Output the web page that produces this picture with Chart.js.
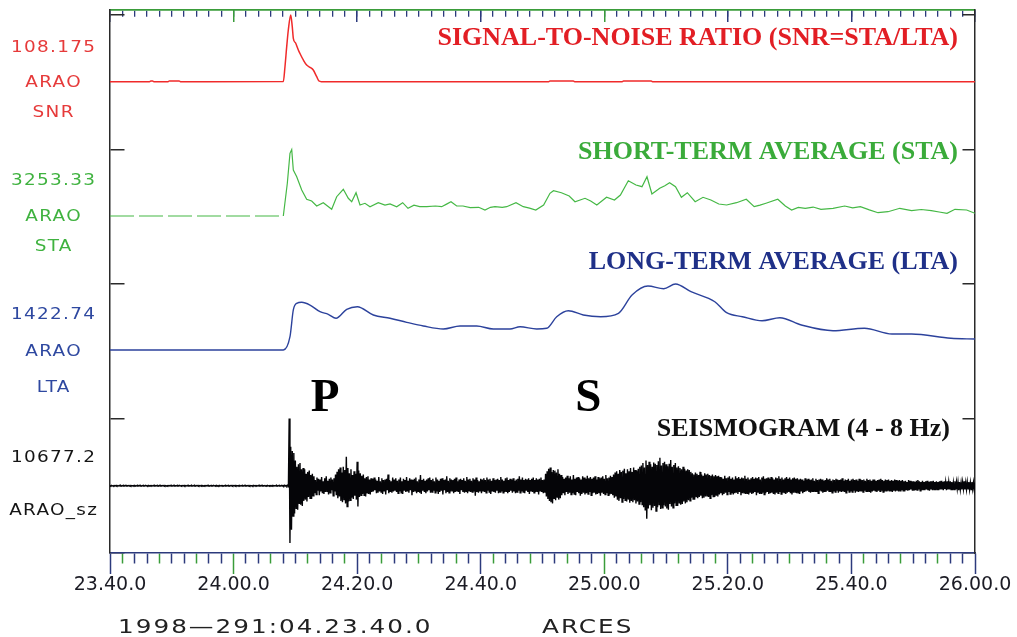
<!DOCTYPE html>
<html>
<head>
<meta charset="utf-8">
<script src="https://cdn.jsdelivr.net/npm/chart.js@4.4.1/dist/chart.umd.min.js"></script>
<style>
  html, body { margin: 0; padding: 0; background: #fff; }
  canvas { display: block; }
</style>
</head>
<body>
<canvas id="c" width="1017" height="637"></canvas>
<script>
// ---------------------------------------------------------------------------
// Data: ARAO traces, times in seconds after 1998-291 04:23:40.0
// ---------------------------------------------------------------------------
const tickLabels = ['23.40.0', '24.00.0', '24.20.0', '24.40.0', '25.00.0', '25.20.0', '25.40.0', '26.00.0'];

// signal-to-noise ratio (STA/LTA)
const snrTime  = [0, 6.4, 6.6, 6.9, 7.1, 9.4, 9.6, 11.2, 11.4, 28.05, 28.32, 28.6, 28.86, 29.25, 29.5, 29.67,
                  30.06, 30.48, 30.87, 31.29, 31.83, 32.37, 32.9, 33.45, 33.83, 34.2, 71.0, 71.2, 75.0, 75.2,
                  82.9, 83.1, 87.6, 87.8, 140];
const snrValue = [1.0, 1.0, 2.0, 2.0, 1.0, 1.0, 2.2, 2.2, 1.0, 1.2, 25.0, 57.2, 84.0, 108.175, 89.4, 70.7,
                  62.7, 51.9, 43.8, 35.8, 27.7, 24.0, 19.7, 8.9, 2.0, 1.0, 1.0, 2.0, 2.0, 1.0,
                  1.0, 2.0, 2.0, 1.0, 1.0];

// short-term average
const staTime  = [0, 28.05, 28.7, 29.13, 29.41, 29.67, 30.22, 31.03, 31.83, 32.64, 33.45, 34.52, 35.88, 36.69,
                  37.76, 38.57, 39.12, 39.82, 40.46, 41.27, 42.08, 43.42, 44.51, 45.32, 46.4, 47.37, 48.23,
                  49.2, 50.12, 51.26, 52.67, 53.68, 54.4, 55.19, 56.11, 57.13, 58.3, 59.67, 60.69, 61.58,
                  62.31, 63.49, 64.2, 65.71, 66.89, 67.9, 68.91, 70.18, 71.21, 71.78, 73.06, 74.32, 75.26,
                  76.88, 77.8, 78.79, 80.37, 81.65, 82.61, 83.89, 85.13, 86.1, 86.91, 87.71, 88.97, 89.8,
                  90.57, 91.53, 92.48, 93.44, 94.71, 95.98, 97.25, 98.53, 99.8, 101.4, 102.98, 104.26, 105.2,
                  106.17, 108.08, 109.3, 110.32, 111.4, 112.53, 113.8, 115.07, 117.02, 118.91, 120.2, 121.45,
                  122.9, 124.3, 125.92, 127.83, 129.74, 131.3, 132.93, 134.2, 135.47, 136.76, 138.65, 140];
const staValue = [36, 36, 1618, 3069, 3253.33, 2262, 1937, 1294, 844, 762, 520, 680, 360, 970,
                  1328, 893, 728, 1163, 568, 651, 486, 680, 568, 617, 486, 680, 409,
                  560, 486, 486, 520, 486, 600, 728, 520, 520, 440, 457, 327, 457,
                  486, 457, 486, 680, 486, 420, 327, 568, 1134, 1260, 1163, 1004, 728,
                  893, 760, 568, 941, 810, 1052, 1744, 1536, 1454, 1937, 1101, 1376, 1500,
                  1647, 1454, 941, 1163, 728, 941, 810, 617, 568, 680, 844, 486, 560,
                  651, 844, 520, 327, 450, 409, 470, 360, 409, 520, 430, 486,
                  330, 196, 244, 409, 293, 350, 293, 230, 167, 360, 327, 167];

// long-term average
const ltaTime  = [0, 28.05, 29.13, 29.67, 30.22, 31.03, 32.37, 33.99, 35.33, 36.58, 38.31, 40.03, 42.62, 45.32,
                  48.02, 50.71, 53.95, 56.65, 59.35, 62.04, 64.74, 66.36, 69.06, 70.68, 72.3, 74.18, 76.6,
                  79.42, 82.29, 84.49, 87.07, 89.62, 91.53, 94.03, 97.89, 99.8, 102.35, 105.53, 108.41, 111.9,
                  117.02, 122.1, 126.56, 129.74, 136.11, 140];
const ltaValue = [26, 26, 308, 873, 1014, 1036, 978, 837, 782, 697, 887, 942, 767, 697,
                  612, 534, 471, 534, 534, 471, 471, 519, 471, 486, 731, 858, 767,
                  731, 803, 1190, 1380, 1323, 1422.74, 1260, 1048, 816, 731, 646, 710, 555,
                  435, 486, 365, 365, 274, 259];

// 4-8 Hz filtered vertical seismogram (counts), one sample every seisStep seconds from t = 0
const seisStep = 0.125;
const seismogram = [
  // pre-event noise
  40,-30,50,-40,30,-50,40,-30,60,-40,30,-40,50,-30,40,-50,30,-40,40,-30,
  50,-40,30,-30,40,-50,60,-40,30,-40,40,-30,50,-50,30,-40,40,-30,50,-40,
  30,-50,40,-30,40,-40,50,-30,30,-40,60,-50,40,-30,30,-40,50,-40,40,-30,
  40,-40,30,-50,50,-30,40,-40,30,-30,50,-40,40,-50,30,-40,40,-30,60,-40,
  30,-40,50,-30,40,-40,30,-50,40,-30,50,-40,30,-40,40,-30,50,-50,40,-40,
  50,-30,40,-40,30,-50,60,-40,30,-30,40,-50,40,-30,50,-40,30,-40,50,-30,
  40,-50,30,-40,40,-30,50,-40,30,-50,40,-40,30,-30,50,-40,40,-30,60,-50,
  30,-40,50,-40,40,-30,30,-50,40,-40,50,-30,40,-40,30,-50,40,-30,50,-40,
  40,-30,50,-50,30,-40,40,-30,60,-40,30,-50,40,-40,50,-30,30,-40,40,-50,
  50,-40,30,-40,40,-50,50,-30,40,-40,30,-40,60,-50,40,-30,50,-40,30,-40,
  40,-50,30,-30,50,-40,40,-40,30,-50,50,-30,40,-40,30,-40,50,-50,40,-30,
  40,-40,60,-50,40,-60,70,-50,60,-70,90,-80,
  // P arrival and coda
  10677.2,-9090,6200,-7000,5500,-4800,5200,-4400,
  4000,-3600,3000,-3800,3400,-2800,3600,-3000,2600,-3200,2800,-2400,
  2600,-2200,1900,-2500,2200,-1800,2400,-2000,1700,-2100,1900,-1600,
  1500,-1200,900,-1400,1300,-800,1100,-1500,1000,-900,1400,-1200,700,-1300,1200,-1000,1500,-900,800,-1400,
  1100,-1100,1300,-700,1000,-1600,1200,-900,
  1800,-1500,2200,-2000,2600,-1700,2900,-2400,2100,-2600,3000,-2200,2500,-2800,4600,-3300,2800,-2500,2000,-2300,
  2600,-1900,1700,-2100,2300,-1600,1900,-2200,3800,-3300,2400,-1800,2000,-1500,
  1600,-1300,1800,-1500,1200,-1700,1400,-1100,1500,-1300,1000,-1400,1200,-1000,
  1100,-900,1300,-700,1000,-1200,800,-1100,1400,-900,700,-1000,1200,-1300,900,-800,
  1000,-1400,1100,-700,1800,-1200,900,-1000,700,-1100,1300,-900,1000,-800,1200,-1000,
  800,-1200,1000,-900,1300,-1100,700,-1300,1100,-800,900,-1000,1400,-900,800,-1100,
  1200,-700,1000,-1500,900,-1000,1100,-800,1300,-1200,700,-900,1000,-1100,1700,-1300,
  900,-800,1100,-1000,800,-1200,1000,-900,1200,-700,1300,-1100,900,-1000,1100,-800,
  700,-1100,1300,-900,1000,-1300,800,-1000,1100,-800,1200,-1400,900,-700,1000,-1200,
  1500,-1000,800,-1100,1200,-900,1000,-800,900,-1200,1100,-1000,1300,-900,700,-1000,
  1000,-1300,1100,-700,900,-1000,1200,-1100,800,-900,1400,-1200,1000,-800,1100,-1000,
  800,-1000,1200,-900,1000,-1600,1300,-1000,900,-1100,700,-900,1100,-1200,1000,-800,
  1200,-1000,900,-1100,1300,-800,1000,-1000,1100,-1300,800,-900,1200,-1000,900,-1100,
  1000,-800,1100,-1200,900,-1000,1400,-900,1000,-1100,800,-1000,1200,-900,1300,-1200,
  900,-1000,1100,-800,1000,-1100,1200,-900,800,-1200,1000,-1000,1100,-800,1500,-1100,
  1000,-900,1300,-1000,900,-1200,1100,-800,1000,-1000,1200,-1300,900,-900,1100,-1000,
  1300,-1100,900,-1000,1200,-900,1000,-1400,1100,-800,1300,-1000,900,-1200,1000,-1100,
  // burst near 24.51
  1900,-1700,2300,-2100,2700,-2400,2900,-2600,2200,-2800,2500,-2000,2400,-2300,2100,-1800,2600,-2200,1900,-2000,
  1700,-1500,
  1400,-1200,1100,-1500,1300,-1000,1600,-1300,1200,-1100,1500,-1400,1000,-1200,1700,-1300,
  1100,-1500,1300,-1000,1400,-1200,1200,-1600,1000,-1300,1500,-1100,1300,-1400,1100,-1200,
  1600,-1300,1200,-1000,1400,-1500,1100,-1200,1300,-1100,1500,-1400,1000,-1300,1400,-1200,
  1200,-1600,1300,-1100,1500,-1300,1100,-1400,1700,-1200,1200,-1500,1300,-1400,1600,-1300,
  1400,-1500,
  1800,-1900,2100,-1700,2300,-2200,1900,-2400,2500,-2000,2200,-2600,2400,-2100,2700,-2300,
  2000,-2500,2600,-2200,2300,-2700,2800,-2400,2200,-2600,2900,-2300,2500,-2800,2400,-2500,
  2700,-2900,3000,-2600,
  // S arrival
  3200,-3000,3600,-3400,2900,-3800,4000,-5240,3300,-3600,3800,-3100,3400,-3900,3000,-3500,
  3700,-3200,3500,-4000,3300,-3400,3900,-3000,4450,-3700,3200,-3500,3600,-3100,3800,-3300,
  3400,-3600,3100,-3800,3500,-2900,4100,-3300,3000,-3500,3300,-2800,3600,-3100,2900,-3200,
  3100,-2700,2800,-3000,2600,-2900,3000,-2500,2700,-2800,2400,-2600,2600,-2300,2500,-2400,
  2200,-1900,2000,-2100,1800,-2200,2100,-1700,1900,-2000,1700,-1800,2200,-1600,1800,-2000,
  1600,-1900,2000,-1700,1800,-1600,1900,-1800,1700,-2000,1600,-1500,1800,-1700,1500,-1800,
  1700,-1600,1500,-1700,1600,-1400,
  // coda
  1400,-1200,1300,-1500,1100,-1300,1600,-1100,1200,-1400,1300,-1000,1500,-1300,1100,-1200,
  1300,-1400,1000,-1200,1500,-1100,1200,-1300,1400,-1000,1100,-1500,1300,-1200,1200,-1100,
  1600,-1300,1100,-1200,1300,-1400,1000,-1100,1200,-1300,1400,-1200,1100,-1000,1300,-1500,
  1200,-1100,1400,-1300,1000,-1200,1300,-1100,1500,-1400,1100,-1200,1200,-1000,1300,-1300,
  1100,-1200,1400,-1100,1200,-1300,1000,-1400,1300,-1100,1200,-1200,1500,-1000,1100,-1300,
  1300,-1100,1000,-1200,1200,-1300,1400,-1100,1100,-1000,1300,-1200,1000,-1400,1200,-1100,
  1300,-1000,1100,-1200,1200,-1100,1000,-1300,
  1100,-900,1000,-1200,800,-1000,1200,-900,1000,-800,1100,-1000,900,-1100,1000,-900,
  1200,-1000,800,-900,1100,-1000,900,-1200,1000,-800,1100,-900,1000,-1100,800,-1000,
  900,-1000,1200,-800,1000,-900,1100,-1000,800,-1100,1000,-900,900,-1000,1100,-800,
  1000,-1100,900,-900,1000,-1000,1200,-900,800,-1000,1000,-1100,900,-800,1100,-1000,
  800,-900,1000,-1000,1100,-800,900,-1100,1000,-900,800,-1000,1100,-900,1000,-900,
  900,-1000,1000,-800,800,-900,1100,-1000,900,-900,1000,-1100,800,-900,1000,-800,
  1000,-900,800,-1000,900,-800,1000,-900,1100,-800,900,-1000,800,-900,1000,-800,
  900,-800,1000,-900,800,-900,900,-1000,800,-800,1000,-900,900,-800,800,-900,
  900,-800,
  800,-700,900,-800,700,-900,800,-700,600,-800,900,-700,800,-600,700,-800,
  700,-800,600,-700,800,-700,900,-600,700,-800,600,-700,800,-700,600,-700,
  700,-600,800,-700,600,-800,700,-600,700,-700,800,-600,600,-700,700,-600,
  600,-700,700,-600,800,-600,600,-700,700,-500,600,-700,700,-600,600,-600,
  700,-600,600,-700,500,-600,700,-600,600,-500,600,-700,600,-600,500,-600,
  600,-500,700,-600,500,-600,600,-500,600,-600,500,-600,600,-500,500,-600,
  500
];

const station = 'ARAO';
const channels = ['SNR', 'STA', 'LTA', 'sz'];
const traceTitles = ['SIGNAL-TO-NOISE RATIO (SNR=STA/LTA)', 'SHORT-TERM AVERAGE (STA)',
                     'LONG-TERM AVERAGE (LTA)', 'SEISMOGRAM (4 - 8 Hz)'];
const phaseNames = ['P', 'S'];
const phaseTimes = [34.8, 77.4];
const startStamp = '1998\u2014291:04.23.40.0';
const arrayName = 'ARCES';

// ---------------------------------------------------------------------------
// Layout and styling
// ---------------------------------------------------------------------------
const PAD_LEFT = 110, PAD_RIGHT = 42, PAD_TOP = 10, XAXIS_H = 84;
const PLOT_W = 1017 - PAD_LEFT - PAD_RIGHT;
const ROWS = 4;                 // stacked trace rows
const TOP_MARGIN = 5 / 134.5;   // headroom above the first row, in rows
const T_END = 140;
const STA_ONSET = 28.05;

const traceColors = ['#f02a2a', '#45b845', '#2c429c', '#050508'];
const labelColors = ['#e63a3a', '#3fb23f', '#2e48a0', '#151515'];
const titleColors = ['#e21e24', '#3aab3a', '#1f3088', '#111111'];
const NAVY = '#2c3a7c', GREEN = '#3a9c3a', FRAME = '#2a2a2a';

const sideLabelX = 53;
const sideLabelY = [[47.7, 83, 112.8], [181, 216.5, 246.5], [314.5, 351.7, 387.7], [458, 510.5]];
const titleRight = [958, 958, 958, 950];
const titleBase = [44.5, 158.5, 269, 435.5];
const phaseBase = 411;

// ---------------------------------------------------------------------------
const toPoints = (ts, vs) => ts.map((t, i) => ({ x: t, y: vs[i] }));
const seisPoints = seismogram.map((v, i) => ({ x: i * seisStep, y: v }));
const traceValues = [snrValue, staValue, ltaValue, seismogram];
const amplitudes = traceValues.map(vs => Math.max(...vs.map(Math.abs)));
const ampText = amplitudes.map(a => String(Number(a.toPrecision(6))));

// each trace gets its own full-height axis, centred on its row, with +/-amplitude filling half a row
function rowRange(row, amp) {
  const c = ROWS - row - 0.5;
  return { min: -c * 2 * amp, max: (ROWS + TOP_MARGIN - c) * 2 * amp };
}
function traceAxis(row) {
  const r = rowRange(row, amplitudes[row]);
  return { type: 'linear', display: false, min: r.min, max: r.max };
}
const every = step => scale => {
  const ticks = [];
  for (let t = 0; t <= T_END; t += step) ticks.push({ value: t });
  scale.ticks = ticks;
};

// wide plotter lettering: stretched glyphs plus a little tracking
function drawWide(ctx, text, x, y, stretch, spacing, align) {
  ctx.save();
  ctx.letterSpacing = (spacing / stretch) + 'px';
  ctx.textAlign = 'left';
  const w = (ctx.measureText(text).width - spacing / stretch) * stretch;
  const x0 = align === 'center' ? x - w / 2 : x;
  ctx.translate(x0, y);
  ctx.scale(stretch, 1);
  ctx.fillText(text, 0, 0);
  ctx.restore();
}

const tracePanelText = {
  id: 'tracePanelText',
  afterDraw(chart) {
    const { ctx, scales } = chart;
    ctx.save();
    // row labels: amplitude, station, channel
    ctx.font = '16px "DejaVu Sans"';
    ctx.textBaseline = 'middle';
    for (let r = 0; r < ROWS; r++) {
      ctx.fillStyle = labelColors[r];
      const lines = r < 3 ? [ampText[r], station, channels[r]] : [ampText[r], station + '_' + channels[r]];
      lines.forEach((s, k) => drawWide(ctx, s, sideLabelX, sideLabelY[r][k], 1.15, 1.3, 'center'));
    }
    // trace titles
    ctx.textBaseline = 'alphabetic';
    ctx.font = 'bold 26px "Liberation Serif"';
    ctx.textAlign = 'right';
    traceTitles.forEach((s, r) => {
      ctx.fillStyle = titleColors[r];
      ctx.fillText(s, titleRight[r], titleBase[r]);
    });
    // phase marks
    ctx.font = 'bold 47px "Liberation Serif"';
    ctx.textAlign = 'center';
    ctx.fillStyle = '#000';
    phaseNames.forEach((p, i) => ctx.fillText(p, scales.x.getPixelForValue(phaseTimes[i]), phaseBase));
    // start time and array name
    ctx.font = '19px "DejaVu Sans"';
    ctx.fillStyle = '#222';
    drawWide(ctx, startStamp, 118, 633, 1.3, 2, 'left');
    drawWide(ctx, arrayName, 542, 633, 1.3, 2, 'left');
    ctx.restore();
  }
};

const bottomTickColor = c => {
  const v = c.tick ? c.tick.value : 0;
  if (v % 20 === 0) return (v === 20 || v === 80) ? GREEN : NAVY;
  return ((v / 2) % 3 === 1) ? GREEN : NAVY;
};

new Chart(document.getElementById('c'), {
  type: 'line',
  data: {
    datasets: [
      { data: toPoints(snrTime, snrValue), yAxisID: 'ySnr', borderColor: traceColors[0], borderWidth: 1.5,
        cubicInterpolationMode: 'monotone' },
      { data: toPoints(staTime, staValue), yAxisID: 'ySta', borderColor: traceColors[1], borderWidth: 1.2,
        segment: { borderDash: c => (c.p1.parsed.x <= STA_ONSET ? [24, 5] : undefined) } },
      { data: toPoints(ltaTime, ltaValue), yAxisID: 'yLta', borderColor: traceColors[2], borderWidth: 1.4,
        cubicInterpolationMode: 'monotone' },
      { data: seisPoints, yAxisID: 'ySeis', borderColor: traceColors[3], borderWidth: 1.4 }
    ]
  },
  options: {
    responsive: false,
    animation: false,
    devicePixelRatio: 1,
    layout: { padding: { left: PAD_LEFT, right: PAD_RIGHT, top: PAD_TOP, bottom: 0 } },
    elements: { point: { radius: 0 }, line: { fill: false } },
    plugins: { legend: { display: false }, tooltip: { enabled: false } },
    scales: {
      x: {
        type: 'linear', position: 'bottom', min: 0, max: T_END,
        afterBuildTicks: every(2),
        afterFit: s => { s.height = XAXIS_H; },
        grid: {
          drawOnChartArea: false, drawTicks: true, tickLength: 21, tickWidth: 1.5,
          tickColor: bottomTickColor,
          tickBorderDash: c => (c.tick && c.tick.value % 20 === 0) ? [] : [10, 60]
        },
        border: { display: true, color: NAVY, width: 1.5 },
        ticks: {
          autoSkip: false, maxRotation: 0, padding: 0, color: '#1b1b24',
          font: { family: 'DejaVu Sans', size: 19 },
          callback: v => (v % 20 === 0 ? tickLabels[v / 20] : '')
        }
      },
      xTop: {
        type: 'linear', position: 'top', min: 0, max: T_END,
        afterBuildTicks: every(2),
        ticks: { display: false },
        grid: { drawTicks: false, drawOnChartArea: true, lineWidth: 1.3, color: NAVY },
        border: { display: true, color: GREEN, width: 1.8, dash: [6, 4000] }
      },
      xTopMajor: {
        type: 'linear', position: 'top', min: 0, max: T_END,
        afterBuildTicks: every(20),
        ticks: { display: false },
        grid: { drawTicks: false, drawOnChartArea: true, lineWidth: 1.5,
                color: c => (c.tick && (c.tick.value === 20 || c.tick.value === 80)) ? GREEN : NAVY },
        border: { display: false, dash: [12, 4000] }
      },
      frame: {
        type: 'linear', position: 'left', min: 0, max: ROWS + TOP_MARGIN,
        afterBuildTicks: s => { s.ticks = [0, 1, 2, 3, 4].map(v => ({ value: v })); },
        ticks: { display: false },
        grid: { drawTicks: false, drawOnChartArea: true, lineWidth: 1.5, color: FRAME },
        border: { display: true, color: FRAME, width: 1.5, dash: [14, PLOT_W - 27, 13, 4000] }
      },
      frameRight: {
        type: 'linear', position: 'right', min: 0, max: 1,
        ticks: { display: false },
        grid: { display: false, drawTicks: false },
        border: { display: true, color: FRAME, width: 1.5 }
      },
      ySnr: traceAxis(0),
      ySta: traceAxis(1),
      yLta: traceAxis(2),
      ySeis: traceAxis(3)
    }
  },
  plugins: [tracePanelText]
});
</script>
</body>
</html>
